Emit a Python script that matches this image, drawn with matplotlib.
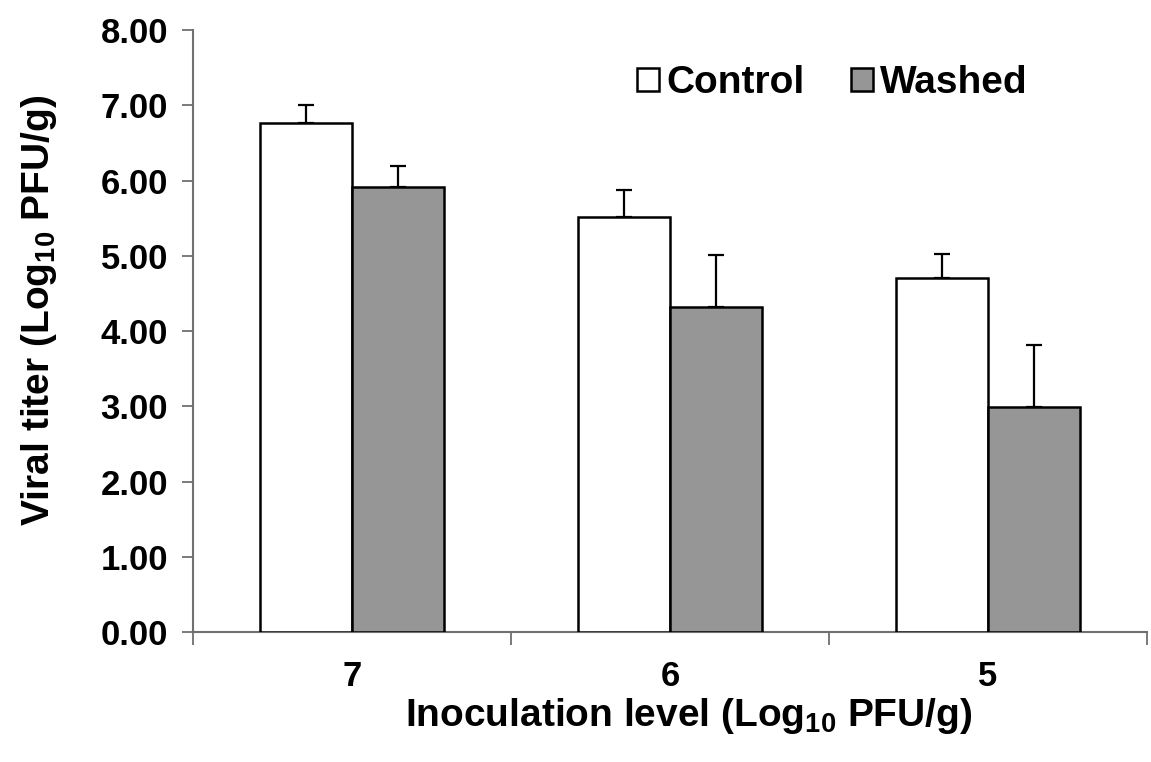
import matplotlib
matplotlib.use("Agg")
import matplotlib.pyplot as plt
import numpy as np

categories = ["7", "6", "5"]
control = [6.77, 5.52, 4.71]
control_err = [0.23, 0.35, 0.31]
washed = [5.92, 4.32, 2.99]
washed_err = [0.27, 0.69, 0.82]
yticks = [0, 1, 2, 3, 4, 5, 6, 7, 8]

plt.rcParams['font.family'] = ['Liberation Sans', 'DejaVu Sans']
plt.rcParams['font.weight'] = 'bold'
plt.rcParams['axes.labelweight'] = 'bold'
plt.rcParams['mathtext.fontset'] = 'custom'
plt.rcParams['mathtext.rm'] = 'Liberation Sans:bold'
plt.rcParams['mathtext.it'] = 'Liberation Sans:bold'
plt.rcParams['mathtext.bf'] = 'Liberation Sans:bold'
plt.rcParams['mathtext.default'] = 'rm'

fig = plt.figure(figsize=(11.51, 7.62), dpi=100)
ax = fig.add_axes([0.1677, 0.1706, 0.8288, 0.79])

x = np.arange(len(categories))
w = 0.288
lw = 1.8
ax.bar(x - w/2, control, w, color='white', edgecolor='black', linewidth=lw,
       label='Control', zorder=3)
ax.bar(x + w/2, washed, w, color='#969696', edgecolor='black', linewidth=lw,
       label='Washed', zorder=3)
ax.errorbar(x - w/2, control, yerr=[np.zeros(len(control)), control_err], fmt='none',
            ecolor='black', elinewidth=1.6, capsize=5.5, capthick=1.6, zorder=2)
ax.errorbar(x + w/2, washed, yerr=[np.zeros(len(washed)), washed_err], fmt='none',
            ecolor='black', elinewidth=1.6, capsize=5.5, capthick=1.6, zorder=2)

ax.set_xlim(-0.5, len(categories) - 0.5)
ax.set_ylim(0, 8)
ax.set_yticks(yticks)
ax.set_yticklabels([f"{v:.2f}" for v in yticks])
ax.set_xticks(x)
ax.set_xticklabels(categories)
ax.set_xticks(np.arange(len(categories) + 1) - 0.5, minor=True)
ax.tick_params(axis='x', which='major', length=0, pad=20, labelsize=25)
ax.tick_params(axis='x', which='minor', length=9, width=1.3, color='#707070', direction='out')
ax.tick_params(axis='y', which='major', length=8, width=1.3, color='#707070', pad=10, labelsize=25)

for s in ['top', 'right']:
    ax.spines[s].set_visible(False)
for s in ['left', 'bottom']:
    ax.spines[s].set_color('#707070')
    ax.spines[s].set_linewidth(1.5)

ax.set_ylabel('Viral titer (Log$_{10}$ PFU/g)', fontsize=28, labelpad=30)
ax.set_xlabel('Inoculation level (Log$_{10}$ PFU/g)', fontsize=28, labelpad=2)
ax.xaxis.label.set_x(0.52)
ax.yaxis.label.set_y(0.535)

ax.legend(loc='upper right', bbox_to_anchor=(0.912, 1.0), ncol=2, frameon=False,
          fontsize=28, handlelength=0.55, handleheight=0.55, handletextpad=0.2,
          columnspacing=1.2)

fig.savefig('out.png', dpi=100)
